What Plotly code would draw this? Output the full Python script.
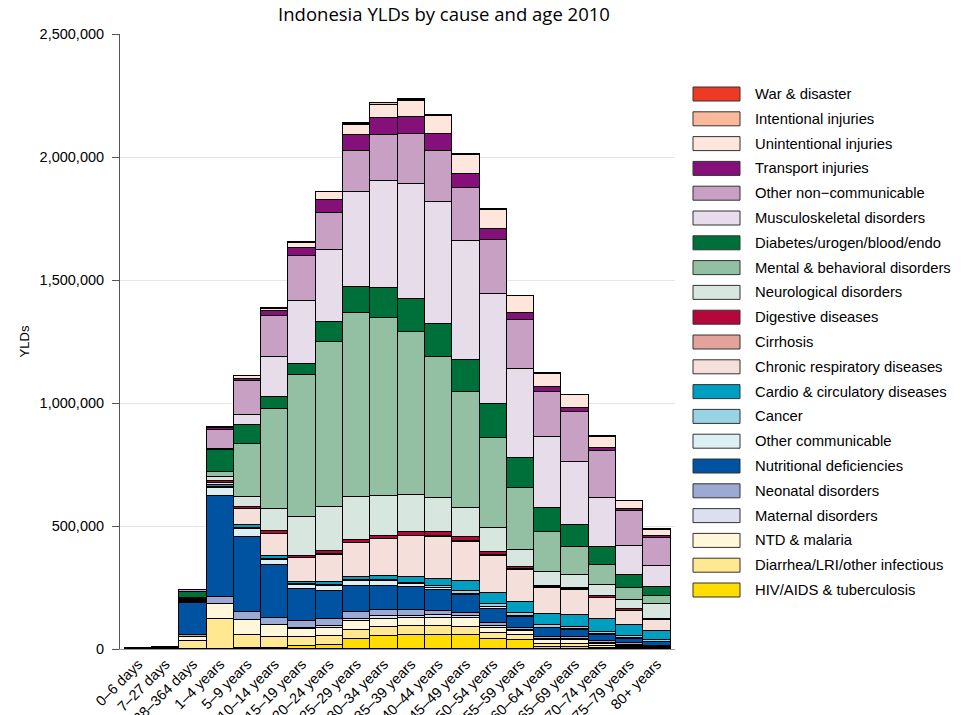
import plotly.graph_objects as go

ages = ["0–6 days", "7–27 days", "28–364 days", "1–4 years", "5–9 years",
        "10–14 years", "15–19 years", "20–24 years", "25–29 years", "30–34 years",
        "35–39 years", "40–44 years", "45–49 years", "50–54 years", "55–59 years",
        "60–64 years", "65–69 years", "70–74 years", "75–79 years", "80+ years"]

# values in thousands of YLDs, stacking order bottom -> top
hiv        = [0, 0, 0, 2, 3, 4, 11, 18, 41, 54, 58, 58, 58, 41, 38, 10, 10, 6, 4, 2]
diarrhea   = [1, 3, 34, 118, 54, 45, 37, 34, 38, 34, 34, 34, 30, 24, 20, 11, 11, 7, 5, 4]
ntd        = [0, 0, 15, 61, 60, 47, 34, 32, 34, 35, 34, 34, 38, 20, 16, 14, 14, 6, 4, 3]
maternal   = [0, 0, 0, 0, 0, 0, 2, 8, 9, 12, 9, 11, 10, 10, 5, 6, 6, 6, 5, 2]
neonatal   = [3, 4, 9, 30, 34, 30, 31, 30, 27, 24, 22, 16, 10, 12, 5, 6, 6, 6, 5, 2]
nutrition  = [0, 1, 128, 410, 306, 217, 129, 113, 106, 98, 94, 85, 73, 56, 47, 37, 30, 27, 19, 14]
other_comm = [0, 0, 5, 35, 31, 20, 16, 23, 20, 18, 12, 9, 5, 7, 4, 3, 3, 3, 3, 2]
cancer     = [0, 0, 0, 3, 3, 3, 3, 3, 4, 5, 6, 10, 13, 14, 11, 9, 10, 9, 8, 8]
cardio     = [0, 0, 2, 6, 13, 13, 11, 13, 13, 16, 24, 28, 38, 43, 47, 45, 50, 51, 43, 37]
chronic    = [0, 0, 3, 8, 64, 88, 94, 110, 138, 152, 165, 172, 162, 153, 129, 108, 100, 85, 57, 44]
cirrhosis  = [0, 0, 0, 0, 1, 1, 1, 1, 1, 1, 2, 2, 2, 2, 2, 2, 2, 1, 1, 1]
digestive  = [0, 0, 2, 8, 8, 11, 11, 12, 11, 11, 15, 16, 16, 12, 9, 7, 7, 7, 7, 5]
neuro      = [0, 0, 5, 18, 41, 91, 157, 180, 176, 163, 152, 137, 118, 96, 70, 54, 52, 47, 39, 60]
mental     = [0, 0, 5, 19, 216, 404, 575, 673, 748, 722, 661, 576, 472, 369, 252, 163, 115, 80, 47, 31]
diabetes   = [0, 0, 24, 92, 75, 52, 47, 79, 106, 123, 135, 134, 128, 135, 121, 98, 88, 72, 52, 37]
musculo    = [0, 0, 1, 3, 41, 159, 255, 295, 386, 434, 467, 494, 487, 450, 363, 289, 256, 200, 121, 87]
other_ncd  = [0, 0, 6, 79, 140, 169, 182, 149, 165, 186, 203, 210, 213, 217, 199, 183, 202, 192, 139, 113]
transport  = [0, 0, 1, 6, 8, 18, 35, 53, 68, 72, 70, 68, 56, 45, 28, 20, 16, 14, 9, 7]
unint      = [0, 0, 1, 6, 11, 12, 20, 30, 41, 53, 66, 74, 80, 79, 68, 54, 54, 44, 33, 26]
intent     = [0, 0, 0, 0, 1, 3, 3, 2, 4, 5, 4, 3, 3, 2, 2, 1, 1, 1, 1, 1]
war        = [0, 0, 0, 0, 0, 0, 1, 1, 1, 1, 1, 1, 1, 1, 1, 0, 0, 0, 0, 0]

causes = ["HIV/AIDS & tuberculosis", "Diarrhea/LRI/other infectious", "NTD & malaria",
          "Maternal disorders", "Neonatal disorders", "Nutritional deficiencies",
          "Other communicable", "Cancer", "Cardio & circulatory diseases",
          "Chronic respiratory diseases", "Cirrhosis", "Digestive diseases",
          "Neurological disorders", "Mental & behavioral disorders",
          "Diabetes/urogen/blood/endo", "Musculoskeletal disorders",
          "Other non−communicable", "Transport injuries", "Unintentional injuries",
          "Intentional injuries", "War & disaster"]
series = [hiv, diarrhea, ntd, maternal, neonatal, nutrition, other_comm, cancer, cardio,
          chronic, cirrhosis, digestive, neuro, mental, diabetes, musculo, other_ncd,
          transport, unint, intent, war]
colors = ["#ffdd00", "#ffe890", "#fff7da", "#dbdff0", "#9ba9d4", "#0053a1",
          "#dcf0f3", "#98d3e3", "#009fc2", "#f5dfdb", "#e3a39c", "#b5073b",
          "#d7e6df", "#93bfa3", "#00703b", "#e7dcea", "#c7a0c4", "#86107a",
          "#fee6dc", "#fbb89a", "#ee3a25"]

fig = go.Figure()
for name, vals, col in zip(causes, series, colors):
    fig.add_trace(go.Bar(
        x=ages, y=[v * 1000 for v in vals], name=name,
        marker=dict(color=col, line=dict(color="black", width=1)),
        showlegend=False,
    ))

# page body adds an 8px offset; target positions are in screenshot pixels
OFF = 8
L, R, T, B = 120, 675, 34, 649
pw, ph = R - L, B - T
row0, step = 94, 24.8
shapes = []
annotations = []
for i, (name, col) in enumerate(zip(causes[::-1], colors[::-1])):
    cy = row0 + i * step
    shapes.append(dict(type="rect", xref="paper", yref="paper",
                       x0=(693 - L) / pw, x1=(740 - L) / pw,
                       y0=(B - (cy + 7)) / ph, y1=(B - (cy - 7)) / ph,
                       fillcolor=col, line=dict(color="#333333", width=1)))
    annotations.append(dict(xref="paper", yref="paper", x=(753 - L) / pw,
                            y=(B - cy) / ph, text=name, showarrow=False,
                            xanchor="left", yanchor="middle",
                            font=dict(family="Liberation Sans, Arial", size=14.8, color="black")))

fig.update_layout(
    width=965, height=715,
    barmode="stack", bargap=0,
    plot_bgcolor="white", paper_bgcolor="white",
    margin=dict(l=L - OFF, r=965 - R + OFF, t=T - OFF, b=715 - B + OFF),
    title=dict(text="Indonesia YLDs by cause and age 2010", x=(444 - L) / pw, xref="paper",
               xanchor="center", y=1 - (15 - OFF) / 715, yanchor="middle",
               font=dict(family="Open Sans", size=18.5, color="black")),
    font=dict(family="Liberation Sans, Arial", size=14.5, color="black"),
    shapes=shapes, annotations=annotations,
    showlegend=False,
)
fig.update_xaxes(range=[-0.67, 19.66], tickangle=-45, showline=True,
                 linecolor="#999999", linewidth=1, ticks="", automargin=False,
                 tickfont=dict(size=14.5), showgrid=False)
fig.update_yaxes(range=[0, 2500000], dtick=500000, tickformat=",", showline=True,
                 linecolor="#555555", linewidth=1, ticks="outside", ticklen=7,
                 tickcolor="#555555", gridcolor="#e6e6e6", zeroline=False,
                 automargin=False, tickfont=dict(size=14.5), ticklabelstandoff=5,
                 title=dict(text="YLDs", standoff=7, font=dict(size=13)))

fig.write_html("out.html")
